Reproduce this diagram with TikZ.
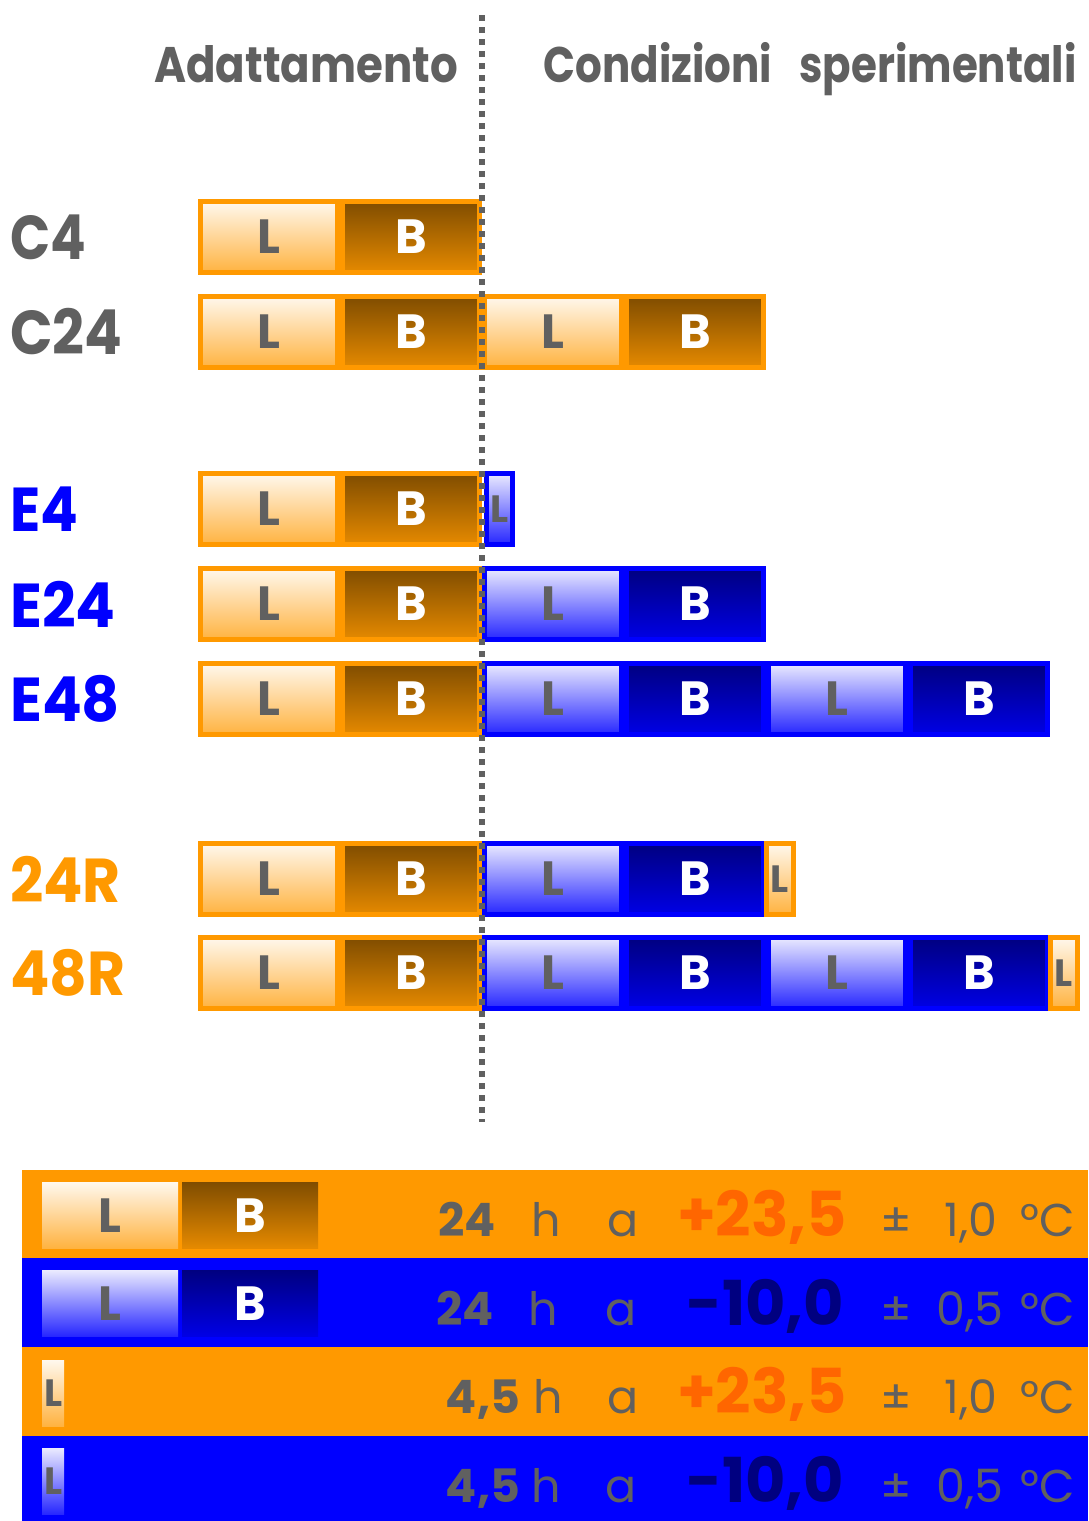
\documentclass[tikz,border=0pt]{standalone}
\usepackage{fontspec}
\setmainfont{Poppins}
\definecolor{obrd}{HTML}{FF9900}
\definecolor{bbrd}{HTML}{0000FF}
\definecolor{txtg}{HTML}{606060}
\definecolor{navy}{HTML}{000080}
\definecolor{ored}{HTML}{FF6600}
\begin{document}
\begin{tikzpicture}[x=1pt,y=-1pt,
  segbase/.style={inner sep=0pt, line width=5pt, minimum height=71pt, anchor=north west, font=\fontsize{48}{48}\selectfont\bfseries},
  lor/.style={segbase, draw=obrd, top color=white!93!obrd, bottom color=obrd!75!white, text=txtg},
  bor/.style={segbase, draw=obrd, top color=obrd!50!black, bottom color=obrd!90!black, text=white},
  lbl/.style={segbase, draw=bbrd, top color=bbrd!8!white, bottom color=bbrd!85!white, text=txtg},
  bbl/.style={segbase, draw=bbrd, top color=navy, bottom color=bbrd!90!black, text=white},
  small/.style={font=\fontsize{38}{38}\selectfont\bfseries},
  legl/.style={inner sep=0pt, anchor=north west, minimum height=66pt, font=\fontsize{48}{48}\selectfont\bfseries, text=txtg},
  legb/.style={inner sep=0pt, anchor=north west, minimum height=66pt, font=\fontsize{48}{48}\selectfont\bfseries, text=white},
  rowlbl/.style={anchor=west, inner sep=0pt, font=\fontsize{62}{62}\selectfont\bfseries},
  head/.style={anchor=base, inner sep=0pt, text=txtg, font=\fontsize{50}{50}\selectfont\bfseries},
  lt/.style={anchor=base, inner sep=0pt, text=txtg, font=\fontsize{46}{46}\selectfont},
  ltb/.style={anchor=base, inner sep=0pt, text=txtg, font=\fontsize{46}{46}\selectfont\bfseries},
  big/.style={anchor=base, inner sep=0pt, font=\fontsize{62}{62}\selectfont\bfseries},
  dots/.style={draw=txtg, line width=6pt, dash pattern=on 6pt off 6pt}
]
\useasboundingbox (0,0) rectangle (1088,1521);

% headers
\node[head] (hA) at (306,82) {\scalebox{0.87}[1]{Adattamento}};
\node[head] (hC1) at (658,82) {\scalebox{0.84}[1]{Condizioni}};
\node[head] (hC2) at (938,82) {\scalebox{0.84}[1]{sperimentali}};

% row labels
\node[rowlbl, text=txtg] (rC4) at (10,237) {\scalebox{0.85}[1]{C4}};
\node[rowlbl, text=txtg] (rC24) at (10,332) {\scalebox{0.9}[1]{C24}};
\node[rowlbl, text=bbrd] (rE4) at (10,509) {\scalebox{0.9}[1]{E4}};
\node[rowlbl, text=bbrd] (rE24) at (10,604) {\scalebox{0.95}[1]{E24}};
\node[rowlbl, text=bbrd] (rE48) at (10,699) {\scalebox{0.95}[1]{E48}};
\node[rowlbl, text=obrd] (r24R) at (10,879) {\scalebox{0.94}[1]{24R}};
\node[rowlbl, text=obrd] (r48R) at (10,973) {\scalebox{0.94}[1]{48R}};

% C4
\node[lor, minimum width=137pt] (c4l) at (198,199) {L};
\node[bor, minimum width=137pt] (c4b) at (340,199) {B};
% C24
\node[lor, minimum width=137pt] (c24l) at (198,294) {L};
\node[bor, minimum width=137pt] (c24b) at (340,294) {B};
\node[lor, minimum width=137pt] (c24l2) at (482,294) {L};
\node[bor, minimum width=137pt] (c24b2) at (624,294) {B};
% E4
\node[lor, minimum width=137pt] (e4l) at (198,471) {L};
\node[bor, minimum width=137pt] (e4b) at (340,471) {B};
\node[lbl, small, minimum width=26pt] (e4l2) at (484,471) {L};
% E24
\node[lor, minimum width=137pt] (e24l) at (198,566) {L};
\node[bor, minimum width=137pt] (e24b) at (340,566) {B};
\node[lbl, minimum width=137pt] (e24l2) at (482,566) {L};
\node[bbl, minimum width=137pt] (e24b2) at (624,566) {B};
% E48
\node[lor, minimum width=137pt] (e48l) at (198,661) {L};
\node[bor, minimum width=137pt] (e48b) at (340,661) {B};
\node[lbl, minimum width=137pt] (e48l2) at (482,661) {L};
\node[bbl, minimum width=137pt] (e48b2) at (624,661) {B};
\node[lbl, minimum width=137pt] (e48l3) at (766,661) {L};
\node[bbl, minimum width=137pt] (e48b3) at (908,661) {B};
% 24R
\node[lor, minimum width=137pt] (r24l) at (198,841) {L};
\node[bor, minimum width=137pt] (r24b) at (340,841) {B};
\node[lbl, minimum width=137pt] (r24l2) at (482,841) {L};
\node[bbl, minimum width=137pt] (r24b2) at (624,841) {B};
\node[lor, small, minimum width=27pt] (r24l3) at (764,841) {L};
% 48R
\node[lor, minimum width=137pt] (r48l) at (198,935) {L};
\node[bor, minimum width=137pt] (r48b) at (340,935) {B};
\node[lbl, minimum width=137pt] (r48l2) at (482,935) {L};
\node[bbl, minimum width=137pt] (r48b2) at (624,935) {B};
\node[lbl, minimum width=137pt] (r48l3) at (766,935) {L};
\node[bbl, minimum width=137pt] (r48b3) at (908,935) {B};
\node[lor, small, minimum width=27pt] (r48l4) at (1048,935) {L};

% dotted divider
\coordinate (dtop) at (482,15);
\coordinate (dbot) at (482,1122);
\draw[dots] (dtop) -- (dbot);

% legend backgrounds
\fill[obrd] (22,1170) rectangle (1088,1258);
\fill[bbrd] (22,1258) rectangle (1088,1347);
\fill[obrd] (22,1347) rectangle (1088,1436);
\fill[bbrd] (22,1436) rectangle (1088,1521);

% legend swatches
\node[legl, minimum width=136pt, top color=white!93!obrd, bottom color=obrd!75!white] (gl1) at (42,1182) {L};
\node[legb, minimum width=136pt, top color=obrd!50!black, bottom color=obrd!90!black] (gb1) at (182,1182) {B};
\node[legl, minimum width=136pt, top color=bbrd!8!white, bottom color=bbrd!85!white] (gl2) at (42,1270) {L};
\node[legb, minimum width=136pt, top color=navy, bottom color=bbrd!90!black] (gb2) at (182,1270) {B};
\node[legl, small, minimum width=22pt, top color=white!93!obrd, bottom color=obrd!75!white] (gl3) at (42,1360) {L};
\node[legl, small, minimum width=22pt, top color=bbrd!8!white, bottom color=bbrd!85!white] (gl4) at (42,1448) {L};

% legend texts row 1
\node[ltb] (t1a) at (467,1236) {24};
\node[lt] (t1b) at (546,1236) {h};
\node[lt] (t1c) at (623,1236) {a};
\node[big, text=ored] (t1d) at (762,1236) {+23,5};
\node[lt] (t1e) at (896,1236) {±};
\node[lt] (t1f) at (971,1236) {1,0};
\node[lt] (t1g) at (1048,1236) {°C};
% row 2
\node[ltb] (t2a) at (465,1325) {24};
\node[lt] (t2b) at (543,1325) {h};
\node[lt] (t2c) at (621,1325) {a};
\node[big, text=navy] (t2d) at (765,1325) {-10,0};
\node[lt] (t2e) at (896,1325) {±};
\node[lt] (t2f) at (970,1325) {0,5};
\node[lt] (t2g) at (1048,1325) {°C};
% row 3
\node[ltb] (t3a) at (483,1413) {4,5};
\node[lt] (t3b) at (548,1413) {h};
\node[lt] (t3c) at (623,1413) {a};
\node[big, text=ored] (t3d) at (762,1413) {+23,5};
\node[lt] (t3e) at (896,1413) {±};
\node[lt] (t3f) at (971,1413) {1,0};
\node[lt] (t3g) at (1048,1413) {°C};
% row 4
\node[ltb] (t4a) at (483,1502) {4,5};
\node[lt] (t4b) at (546,1502) {h};
\node[lt] (t4c) at (621,1502) {a};
\node[big, text=navy] (t4d) at (765,1502) {-10,0};
\node[lt] (t4e) at (896,1502) {±};
\node[lt] (t4f) at (970,1502) {0,5};
\node[lt] (t4g) at (1048,1502) {°C};
\end{tikzpicture}
\end{document}
